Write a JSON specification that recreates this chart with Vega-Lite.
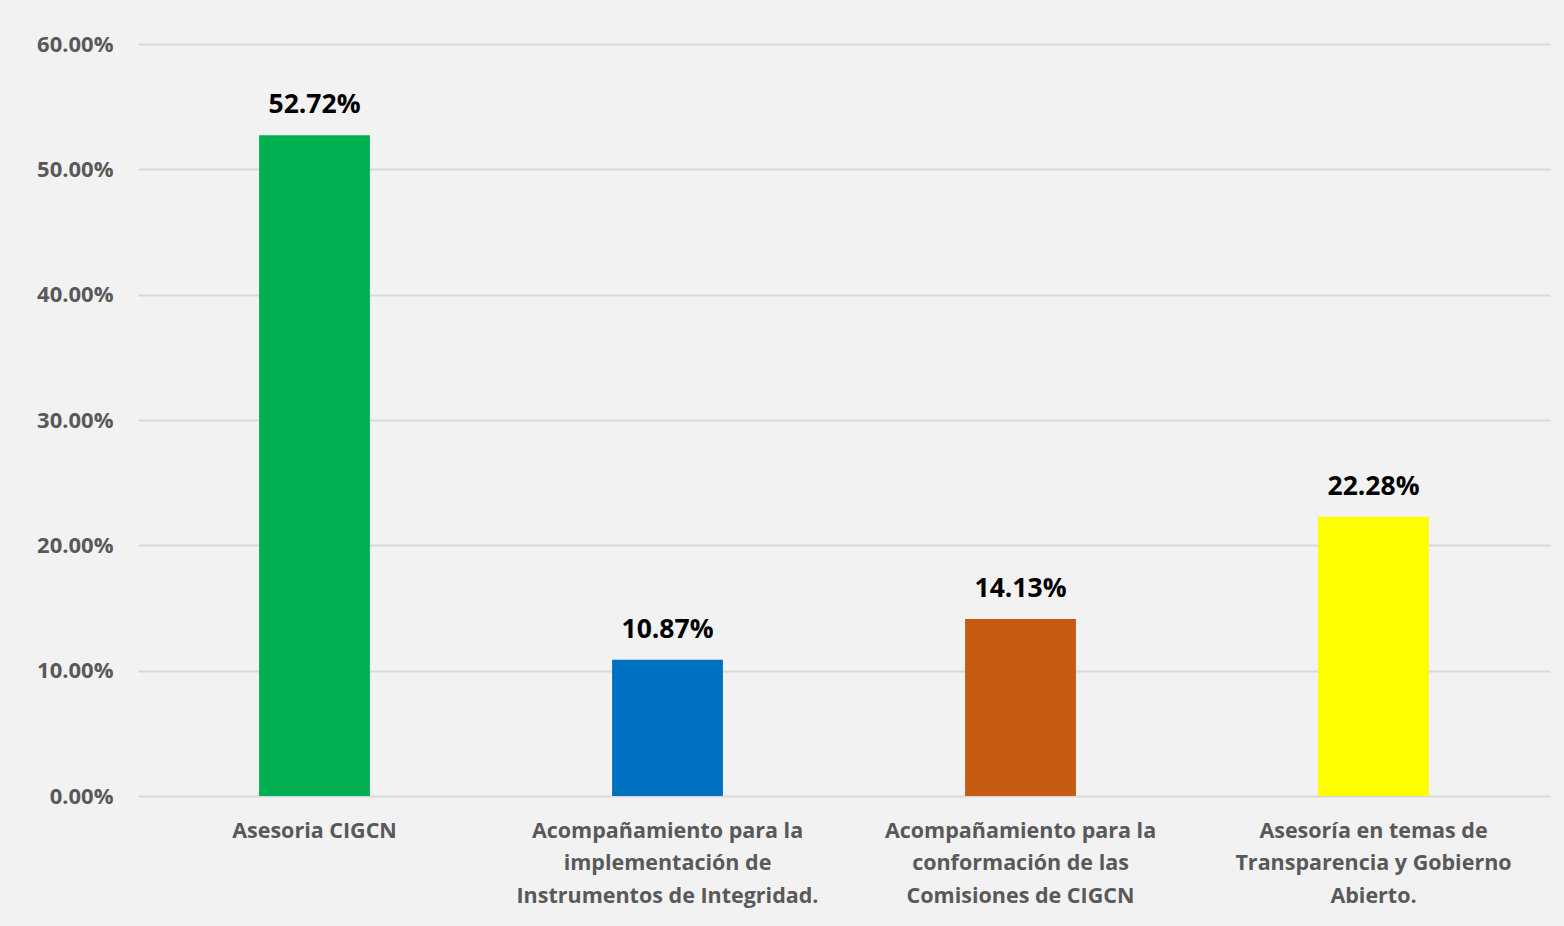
{
  "$schema": "https://vega.github.io/schema/vega-lite/v6.json",
  "width": 1412,
  "height": 752,
  "autosize": "none",
  "padding": {"left": 138, "top": 44, "right": 14, "bottom": 130},
  "background": "#f2f2f2",
  "data": {"values": [
    {"categoria": "Asesoria CIGCN", "porcentaje": 0.5272},
    {"categoria": "Acompañamiento para la implementación de Instrumentos de Integridad.", "porcentaje": 0.1087},
    {"categoria": "Acompañamiento para la conformación de las Comisiones de CIGCN", "porcentaje": 0.1413},
    {"categoria": "Asesoría en temas de Transparencia y Gobierno Abierto.", "porcentaje": 0.2228}
  ]},
  "encoding": {
    "x": {
      "field": "categoria", "type": "nominal", "sort": null,
      "scale": {"paddingInner": 0.686, "paddingOuter": 0.343},
      "axis": {
        "title": null, "labelAngle": 0, "domain": false, "ticks": false,
        "labelPadding": 24, "labelFont": "Open Sans", "labelFontSize": 21.5, "labelFontWeight": "bold",
        "labelColor": "#595959", "labelLineHeight": 32.5, "labelLimit": 400,
        "labelExpr": "datum.value == 'Asesoria CIGCN' ? 'Asesoria CIGCN' : datum.value == 'Acompañamiento para la implementación de Instrumentos de Integridad.' ? ['Acompañamiento para la', 'implementación de', 'Instrumentos de Integridad.'] : datum.value == 'Acompañamiento para la conformación de las Comisiones de CIGCN' ? ['Acompañamiento para la', 'conformación de las', 'Comisiones de CIGCN'] : ['Asesoría en temas de', 'Transparencia y Gobierno', 'Abierto.']"
      }
    },
    "y": {
      "field": "porcentaje", "type": "quantitative",
      "scale": {"domain": [0, 0.6], "nice": false},
      "axis": {
        "title": null, "format": ".2%", "values": [0, 0.1, 0.2, 0.3, 0.4, 0.5, 0.6],
        "domain": false, "ticks": false, "labelPadding": 25,
        "labelFont": "Open Sans", "labelFontSize": 22, "labelFontWeight": "bold", "labelColor": "#595959",
        "grid": true, "gridColor": "#d9d9d9", "gridWidth": 2
      }
    }
  },
  "layer": [
    {
      "mark": {"type": "bar"},
      "encoding": {
        "color": {
          "field": "categoria", "type": "nominal", "legend": null,
          "scale": {
            "domain": ["Asesoria CIGCN", "Acompañamiento para la implementación de Instrumentos de Integridad.", "Acompañamiento para la conformación de las Comisiones de CIGCN", "Asesoría en temas de Transparencia y Gobierno Abierto."],
            "range": ["#00b050", "#0070c0", "#c55a11", "#ffff00"]
          }
        }
      }
    },
    {
      "mark": {"type": "text", "baseline": "alphabetic", "dy": -22, "font": "Open Sans", "fontSize": 26.5, "fontWeight": "bold", "color": "#000000"},
      "encoding": {
        "text": {"field": "porcentaje", "type": "quantitative", "format": ".2%"}
      }
    }
  ],
  "config": {"view": {"stroke": null}}
}
